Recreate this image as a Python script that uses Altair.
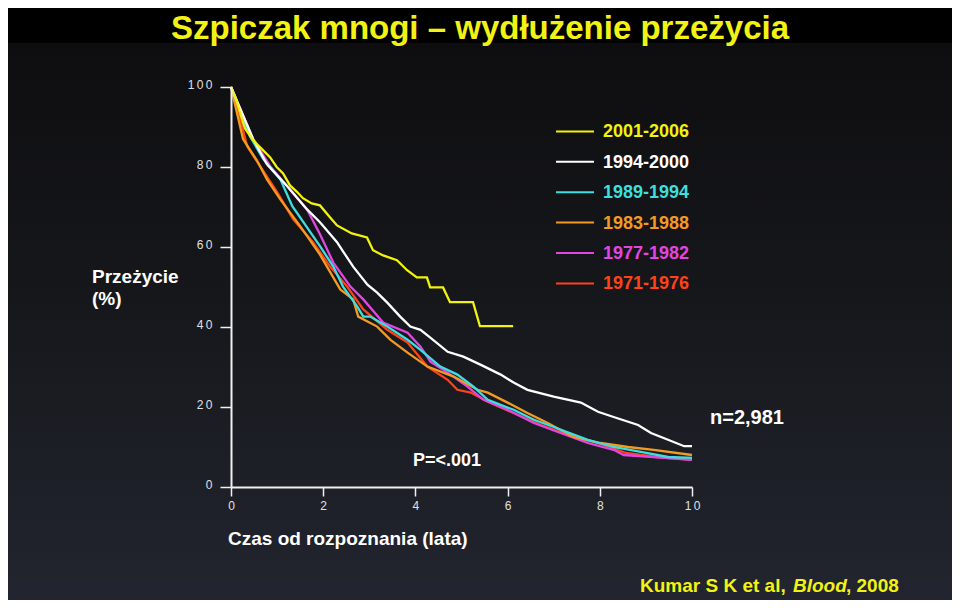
import altair as alt
import pandas as pd

# ---------------- data ----------------
series_names = ["2001-2006", "1994-2000", "1989-1994", "1983-1988", "1977-1982", "1971-1976"]
series_colors = ["#f2f20c", "#ffffff", "#3fdede", "#f39a22", "#e246e2", "#ff4218"]

t_2001 = [0.0, 0.12, 0.2, 0.3, 0.45, 0.59, 0.85, 0.99, 1.13, 1.28, 1.43, 1.56, 1.75, 1.93,
          2.15, 2.30, 2.62, 2.95, 3.08, 3.30, 3.60, 3.82, 4.03, 4.25, 4.32, 4.60, 4.75, 5.25,
          5.40, 6.12]
s_2001 = [100, 96.7, 93.4, 89.7, 87.2, 85.4, 82.4, 80.0, 78.4, 75.4, 73.8, 72.2, 70.9, 70.4,
          67.4, 65.4, 63.4, 62.4, 59.2, 57.9, 56.7, 54.2, 52.4, 52.4, 49.9, 49.9, 46.2, 46.2,
          40.2, 40.2]

t_1994 = [0.0, 0.48, 0.78, 1.22, 1.65, 1.93, 2.30, 2.43, 2.65, 2.96, 3.17, 3.39, 3.67, 3.89,
          4.11, 4.33, 4.70, 5.04, 5.41, 5.85, 6.13, 6.43, 7.0, 7.59, 7.96, 8.30, 8.83, 9.11,
          9.48, 9.83, 10.0]
s_1994 = [100, 87.0, 80.7, 75.2, 69.4, 66.2, 61.2, 58.9, 55.1, 50.6, 48.6, 46.1, 42.6, 40.1,
          39.3, 37.3, 33.8, 32.6, 30.6, 28.1, 26.1, 24.3, 22.6, 21.1, 18.8, 17.5, 15.5, 13.5,
          11.8, 10.2, 10.2]

t_1989 = [0.0, 0.41, 0.70, 1.07, 1.33, 1.57, 1.93, 2.22, 2.43, 2.74, 2.87, 3.02, 3.39, 3.83,
          4.11, 4.54, 4.91, 5.26, 5.57, 6.13, 6.57, 7.0, 7.74, 8.30, 8.89, 9.48, 10.0]
s_1989 = [100, 87.7, 82.0, 76.9, 70.2, 66.2, 60.2, 55.1, 50.1, 45.1, 42.6, 42.6, 40.1, 36.8,
          34.3, 30.1, 28.1, 25.1, 21.8, 19.3, 16.8, 15.0, 11.8, 10.0, 8.8, 7.5, 7.3]

t_1983 = [0.0, 0.26, 0.57, 0.78, 1.07, 1.50, 1.93, 2.37, 2.65, 2.76, 3.17, 3.46, 3.83, 4.26,
          4.83, 5.35, 5.57, 6.0, 6.43, 6.87, 7.43, 8.02, 8.61, 9.17, 10.0]
s_1983 = [100, 87.0, 81.5, 76.9, 71.9, 65.2, 58.1, 49.4, 46.9, 42.6, 40.1, 36.8, 33.6, 30.1,
          27.6, 24.3, 23.6, 21.1, 18.5, 16.0, 12.5, 11.0, 10.0, 9.3, 8.0]

t_1977 = [0.0, 0.48, 0.85, 1.22, 1.65, 1.93, 2.22, 2.59, 2.87, 3.30, 3.83, 4.11, 4.33, 4.70,
          5.13, 5.48, 6.0, 6.57, 7.15, 7.74, 8.30, 8.52, 9.17, 10.0]
s_1977 = [100, 87.0, 80.2, 75.2, 69.4, 63.2, 56.1, 50.1, 46.9, 41.1, 38.6, 35.1, 31.3, 28.6,
          25.1, 21.8, 19.3, 16.0, 13.5, 11.0, 9.3, 8.0, 7.5, 6.8]

t_1971 = [0.0, 0.2, 0.35, 0.63, 1.0, 1.35, 1.78, 2.15, 2.52, 2.87, 3.39, 3.83, 4.26, 4.70,
          4.91, 5.20, 5.57, 6.07, 6.72, 7.37, 8.02, 8.57, 9.22, 10.0]
s_1971 = [100, 92.0, 85.2, 80.2, 73.7, 66.9, 61.2, 55.1, 50.1, 44.4, 39.3, 36.1, 30.1, 26.8,
          24.3, 23.6, 21.3, 18.8, 15.5, 12.8, 10.8, 8.5, 7.5, 6.8]

x_ticks = [0, 2, 4, 6, 8, 10]
y_ticks = [0, 20, 40, 60, 80, 100]

title_text = "Szpiczak mnogi – wydłużenie przeżycia"
y_title_lines = ["Przeżycie", "(%)"]
x_title_text = "Czas od rozpoznania (lata)"
p_text = "P=<.001"
n_text = "n=2,981"
cite_parts = ["Kumar S K et al,", "Blood", ", 2008"]

# ---------------- build tables ----------------
curves = {
    "2001-2006": (t_2001, s_2001),
    "1994-2000": (t_1994, s_1994),
    "1989-1994": (t_1989, s_1989),
    "1983-1988": (t_1983, s_1983),
    "1977-1982": (t_1977, s_1977),
    "1971-1976": (t_1971, s_1971),
}
draw_order = ["1971-1976", "1977-1982", "1983-1988", "1989-1994", "1994-2000", "2001-2006"]
rows = []
for k, name in enumerate(draw_order):
    t, s = curves[name]
    for i, (a, b) in enumerate(zip(t, s)):
        rows.append({"series": name, "t": a, "s": b, "i": i, "z": k})
df = pd.DataFrame(rows)

leg = pd.DataFrame({"series": series_names, "rank": list(range(len(series_names)))})

W, H = 461, 400
PX = W / 10.0   # px per year
PY = H / 100.0  # px per percent

color_scale = alt.Scale(domain=series_names, range=series_colors)
xs = alt.Scale(domain=[0, 10], nice=False, zero=False)
ys = alt.Scale(domain=[0, 100], nice=False)

one = pd.DataFrame({"a": [0]})

bg = alt.Chart(one).mark_rect(
    color=alt.Gradient(
        gradient="linear",
        stops=[alt.GradientStop(color="#0e0e10", offset=0),
               alt.GradientStop(color="#16171b", offset=0.45),
               alt.GradientStop(color="#22252f", offset=1)],
        x1=0, x2=0, y1=0, y2=1,
    )
).encode(x=alt.value(-223), x2=alt.value(W + 260), y=alt.value(-44), y2=alt.value(H + 113))

spaced = "join(split(datum.label, ''), '\u2009')"

lines = alt.Chart(df).mark_line(strokeWidth=2.3, interpolate="linear").encode(
    x=alt.X("t:Q", scale=xs, axis=alt.Axis(
        values=x_ticks, title=None, grid=False, domainColor="#f0f0f0", domainWidth=2,
        tickColor="#f0f0f0", tickWidth=1.5, tickSize=9, labelFontSize=12,
        labelColor="#e0e0e0", labelPadding=4, labelFont="Liberation Sans",
        labelExpr=spaced, labelFlush=False, zindex=1)),
    y=alt.Y("s:Q", scale=ys, axis=alt.Axis(
        values=y_ticks, title=None, grid=False, domainColor="#f0f0f0", domainWidth=2,
        tickColor="#f0f0f0", tickWidth=1.5, tickSize=11, labelFontSize=12,
        labelColor="#e0e0e0", labelPadding=8, labelOffset=-3, labelFont="Liberation Sans",
        labelExpr=spaced, zindex=1)),
    color=alt.Color("series:N", scale=color_scale, legend=None),
    detail="series:N",
    order="i:Q",
)

# manual legend
leg_base = alt.Chart(leg).transform_calculate(
    ly="88.9 - datum.rank * 7.6",
    lx1=f"{(556 - 231) / PX}",
    lx2=f"{(594 - 231) / PX}",
    tx=f"{(603 - 231) / PX}",
)
leg_rules = leg_base.mark_rule(strokeWidth=2).encode(
    x=alt.X("lx1:Q", scale=xs), x2="lx2:Q", y=alt.Y("ly:Q", scale=ys),
    color=alt.Color("series:N", scale=color_scale, legend=None),
)
leg_text = leg_base.mark_text(align="left", baseline="middle", font="Liberation Sans",
                              fontWeight="bold", fontSize=18, dy=1).encode(
    x=alt.X("tx:Q", scale=xs), y=alt.Y("ly:Q", scale=ys), text="series:N",
    color=alt.Color("series:N", scale=color_scale, legend=None),
)

def ptext(txt, x, y, size, color="#ffffff", style="normal", align="left", weight="bold"):
    return alt.Chart(pd.DataFrame({"txt": [txt]})).mark_text(
        align=align, baseline="alphabetic", font="Liberation Sans", fontWeight=weight,
        fontSize=size, fontStyle=style, color=color,
    ).encode(x=alt.value(x), y=alt.value(y), text="txt:N")

def dtext(txt, x, y, size, color="#ffffff"):
    return alt.Chart(pd.DataFrame({"txt": [txt], "x": [x], "y": [y]})).mark_text(
        align="left", baseline="alphabetic", font="Liberation Sans", fontWeight="bold",
        fontSize=size, color=color,
    ).encode(x=alt.X("x:Q", scale=xs), y=alt.Y("y:Q", scale=ys), text="txt:N")

OX, OY = 231, 87  # page position of plot origin
title = ptext(title_text, 480 - OX, 39 - OY, 33, color="#f2f214", align="center")
ytl1 = ptext(y_title_lines[0], 92 - OX, 283 - OY, 19)
ytl2 = ptext(y_title_lines[1], 92 - OX, 305 - OY, 19)
xtl = ptext(x_title_text, 228 - OX, 545 - OY, 19)
cite1 = ptext(cite_parts[0], 640 - OX, 592 - OY, 19, color="#f2f214")
cite2 = ptext(cite_parts[1], 793 - OX, 592 - OY, 19, color="#f2f214", style="italic")
cite3 = ptext(cite_parts[2], 846 - OX, 592 - OY, 19, color="#f2f214")
ptx = dtext(p_text, (413 - OX) / PX, (486.7 - 466) / PY, 18)
ntx = dtext(n_text, (710 - OX) / PX, (486.7 - 424) / PY, 20)

chart = alt.layer(
    bg, lines, leg_rules, leg_text, title, ytl1, ytl2, xtl, cite1, cite2, cite3, ptx, ntx
).properties(
    width=W, height=H,
    autosize=alt.AutoSizeParams(type="none"),
    padding={"left": 223, "top": 79, "right": 260, "bottom": 113},
    background="#000000",
).configure_view(stroke=None)

chart.save("out.html", embed_options={"renderer": "svg", "actions": False})
